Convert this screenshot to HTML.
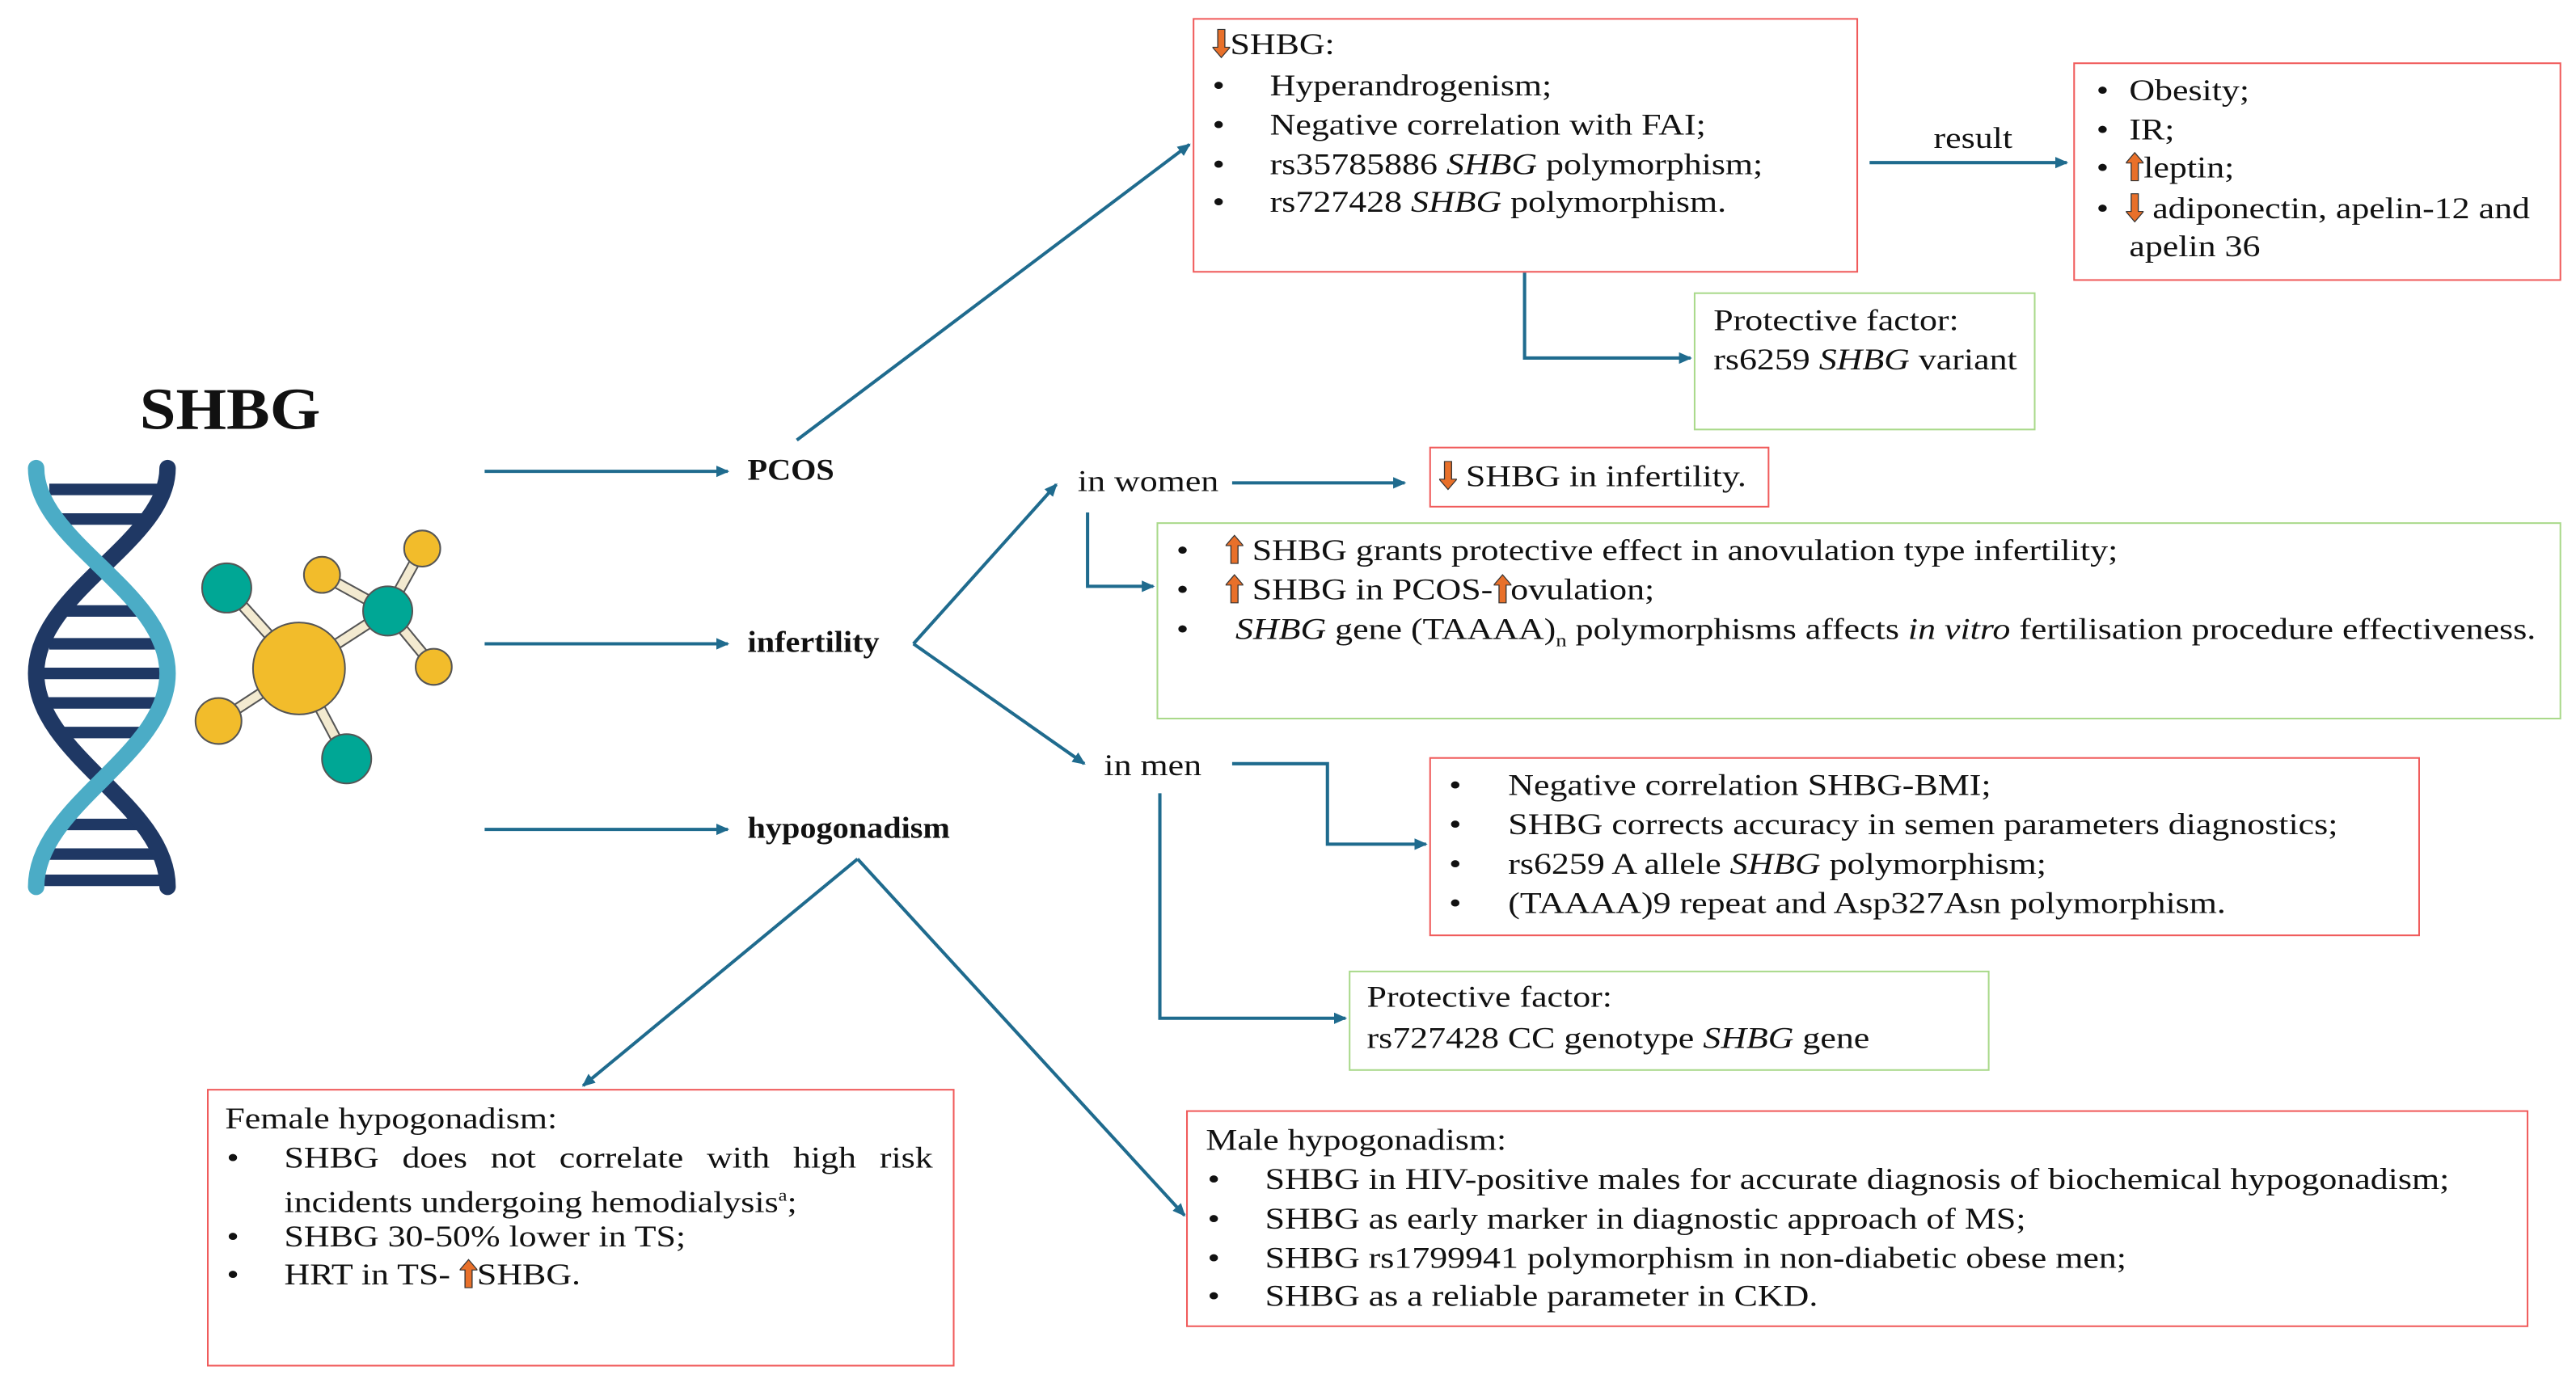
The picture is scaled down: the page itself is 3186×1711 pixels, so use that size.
<!DOCTYPE html>
<html><head><meta charset="utf-8"><style>
html,body{margin:0;padding:0;background:#fff;}
body{width:3186px;height:1710px;overflow:hidden;position:relative;}
#w{position:absolute;left:0;top:0;width:1568px;height:842px;transform:scale(2.0319);transform-origin:0 0;font-family:"Liberation Serif",serif;font-size:18px;color:#111;}
.b{position:absolute;box-sizing:border-box;}
.r{border:1.5px solid #f05a5a;}
.g{border:1.5px solid #a9d98a;}
.t{position:absolute;white-space:nowrap;line-height:20px;transform:scaleX(1.2);transform-origin:0 50%;}
.lbl{position:absolute;font-weight:bold;font-size:18px;white-space:nowrap;transform:scaleX(1.1);transform-origin:0 50%;}
svg.ov{position:absolute;left:0;top:0;}
.ua,.da{display:inline-block;width:9px;height:19px;vertical-align:-3px;}
</style></head><body><div id="w">
<svg class="ov" width="1568" height="842" viewBox="0 0 1568 842">
<defs><marker id="ah" markerWidth="8" markerHeight="8" refX="7" refY="4" orient="auto" markerUnits="userSpaceOnUse"><path d="M0,0.5 L8,4 L0,7.5 z" fill="#1f6b8e"/></marker></defs>
<g stroke="#1f6b8e" stroke-width="2" fill="none" marker-end="url(#ah)">
<line x1="295" y1="287" x2="443" y2="287"/>
<line x1="295" y1="392" x2="443" y2="392"/>
<line x1="295" y1="505" x2="443" y2="505"/>
<line x1="485" y1="268" x2="724" y2="88"/>
<line x1="1138" y1="99" x2="1258" y2="99"/>
<polyline points="928,166 928,218 1029,218"/>
<line x1="556" y1="392" x2="643" y2="295"/>
<line x1="556" y1="392" x2="660" y2="465"/>
<line x1="750" y1="294" x2="855" y2="294"/>
<polyline points="662,312 662,357 702,357"/>
<polyline points="750,465 808,465 808,514 868,514"/>
<polyline points="706,483 706,620 819,620"/>
<line x1="522" y1="523" x2="355" y2="661"/>
<line x1="522" y1="523" x2="721" y2="740"/>
</g>
<g stroke="#1f3864" stroke-width="7">
<line x1="30" y1="298" x2="98" y2="298"/><line x1="35" y1="316" x2="92" y2="316"/>
<line x1="40" y1="372" x2="86" y2="372"/><line x1="30" y1="392" x2="96" y2="392"/>
<line x1="26" y1="410" x2="100" y2="410"/><line x1="28" y1="428" x2="98" y2="428"/>
<line x1="35" y1="446" x2="92" y2="446"/><line x1="40" y1="502" x2="86" y2="502"/>
<line x1="30" y1="520" x2="96" y2="520"/><line x1="26" y1="536" x2="100" y2="536"/>
</g>
<path d="M102,285 C102,330 22,360 22,410 C22,460 102,490 102,540" stroke="#1f3864" stroke-width="10" fill="none" stroke-linecap="round"/>
<path d="M22,285 C22,330 102,360 102,410 C102,460 22,490 22,540" stroke="#4bacc6" stroke-width="10" fill="none" stroke-linecap="round"/>
<g stroke="#555" stroke-width="7" stroke-linecap="round">
<line x1="182" y1="407" x2="138" y2="358"/><line x1="182" y1="407" x2="236" y2="372"/>
<line x1="182" y1="407" x2="211" y2="462"/><line x1="182" y1="407" x2="133" y2="439"/>
<line x1="236" y1="372" x2="196" y2="350"/><line x1="236" y1="372" x2="257" y2="334"/>
<line x1="236" y1="372" x2="264" y2="406"/>
</g>
<g stroke="#f3ead0" stroke-width="5" stroke-linecap="round">
<line x1="182" y1="407" x2="138" y2="358"/><line x1="182" y1="407" x2="236" y2="372"/>
<line x1="182" y1="407" x2="211" y2="462"/><line x1="182" y1="407" x2="133" y2="439"/>
<line x1="236" y1="372" x2="196" y2="350"/><line x1="236" y1="372" x2="257" y2="334"/>
<line x1="236" y1="372" x2="264" y2="406"/>
</g>
<g stroke="#555" stroke-width="1">
<circle cx="182" cy="407" r="28" fill="#f2bc2b"/>
<circle cx="138" cy="358" r="15" fill="#00a795"/>
<circle cx="236" cy="372" r="15" fill="#00a795"/>
<circle cx="211" cy="462" r="15" fill="#00a795"/>
<circle cx="196" cy="350" r="11" fill="#f2bc2b"/>
<circle cx="257" cy="334" r="11" fill="#f2bc2b"/>
<circle cx="264" cy="406" r="11" fill="#f2bc2b"/>
<circle cx="133" cy="439" r="14" fill="#f2bc2b"/>
</g>
</svg>
<div class="lbl" style="left:85px;top:228px;font-size:36px;">SHBG</div>
<div class="lbl" style="left:455px;top:276px;">PCOS</div>
<div class="lbl" style="left:455px;top:381px;">infertility</div>
<div class="lbl" style="left:455px;top:494px;">hypogonadism</div>

<div class="b r" style="left:726px;top:11px;width:405px;height:155px;"></div>
<div class="t" style="left:738px;top:17px;"><svg class="da" viewBox="0 0 10 19"><path d="M3,0h4v12h3l-5,7l-5,-7h3z" fill="#e8702a" stroke="#333" stroke-width=".6"/></svg>SHBG:</div>
<div class="t" style="left:738px;top:42px;">•</div><div class="t" style="left:773px;top:42px;">Hyperandrogenism;</div>
<div class="t" style="left:738px;top:66px;">•</div><div class="t" style="left:773px;top:66px;">Negative correlation with FAI;</div>
<div class="t" style="left:738px;top:90px;">•</div><div class="t" style="left:773px;top:90px;">rs35785886 <i>SHBG</i> polymorphism;</div>
<div class="t" style="left:738px;top:113px;">•</div><div class="t" style="left:773px;top:113px;">rs727428 <i>SHBG</i> polymorphism.</div>

<div class="t" style="left:1177px;top:74px;">result</div>

<div class="b r" style="left:1262px;top:38px;width:297px;height:133px;"></div>
<div class="t" style="left:1276px;top:45px;">•</div><div class="t" style="left:1296px;top:45px;">Obesity;</div>
<div class="t" style="left:1276px;top:69px;">•</div><div class="t" style="left:1296px;top:69px;">IR;</div>
<div class="t" style="left:1276px;top:92px;">•</div><div class="t" style="left:1294px;top:92px;"><svg class="ua" viewBox="0 0 10 19"><path d="M3,19h4v-12h3l-5,-7l-5,7h3z" fill="#e8702a" stroke="#333" stroke-width=".6"/></svg>leptin;</div>
<div class="t" style="left:1276px;top:117px;">•</div><div class="t" style="left:1294px;top:117px;"><svg class="da" viewBox="0 0 10 19"><path d="M3,0h4v12h3l-5,7l-5,-7h3z" fill="#e8702a" stroke="#333" stroke-width=".6"/></svg> adiponectin, apelin-12 and</div>
<div class="t" style="left:1296px;top:140px;">apelin 36</div>

<div class="b g" style="left:1031px;top:178px;width:208px;height:84px;"></div>
<div class="t" style="left:1043px;top:185px;">Protective factor:</div>
<div class="t" style="left:1043px;top:209px;">rs6259 <i>SHBG</i> variant</div>

<div class="t" style="left:656px;top:283px;">in women</div>
<div class="b r" style="left:870px;top:272px;width:207px;height:37px;"></div>
<div class="t" style="left:876px;top:280px;"><svg class="da" viewBox="0 0 10 19"><path d="M3,0h4v12h3l-5,7l-5,-7h3z" fill="#e8702a" stroke="#333" stroke-width=".6"/></svg> SHBG in infertility.</div>

<div class="b g" style="left:704px;top:318px;width:855px;height:120px;"></div>
<div class="t" style="left:716px;top:325px;">•</div><div class="t" style="left:746px;top:325px;"><svg class="ua" viewBox="0 0 10 19"><path d="M3,19h4v-12h3l-5,-7l-5,7h3z" fill="#e8702a" stroke="#333" stroke-width=".6"/></svg> SHBG grants protective effect in anovulation type infertility;</div>
<div class="t" style="left:716px;top:349px;">•</div><div class="t" style="left:746px;top:349px;"><svg class="ua" viewBox="0 0 10 19"><path d="M3,19h4v-12h3l-5,-7l-5,7h3z" fill="#e8702a" stroke="#333" stroke-width=".6"/></svg> SHBG in PCOS-<svg class="ua" viewBox="0 0 10 19"><path d="M3,19h4v-12h3l-5,-7l-5,7h3z" fill="#e8702a" stroke="#333" stroke-width=".6"/></svg>ovulation;</div>
<div class="t" style="left:716px;top:373px;">•</div><div class="t" style="left:752px;top:373px;"><i>SHBG</i> gene (TAAAA)<sub style="font-size:11px;">n</sub> polymorphisms affects <i>in vitro</i> fertilisation procedure effectiveness.</div>

<div class="t" style="left:672px;top:456px;">in men</div>
<div class="b r" style="left:870px;top:461px;width:603px;height:109px;"></div>
<div class="t" style="left:882px;top:468px;">•</div><div class="t" style="left:918px;top:468px;">Negative correlation SHBG-BMI;</div>
<div class="t" style="left:882px;top:492px;">•</div><div class="t" style="left:918px;top:492px;">SHBG corrects accuracy in semen parameters diagnostics;</div>
<div class="t" style="left:882px;top:516px;">•</div><div class="t" style="left:918px;top:516px;">rs6259 A allele <i>SHBG</i> polymorphism;</div>
<div class="t" style="left:882px;top:540px;">•</div><div class="t" style="left:918px;top:540px;">(TAAAA)9 repeat and Asp327Asn polymorphism.</div>

<div class="b g" style="left:821px;top:591px;width:390px;height:61px;"></div>
<div class="t" style="left:832px;top:597px;">Protective factor:</div>
<div class="t" style="left:832px;top:622px;">rs727428 CC genotype <i>SHBG</i> gene</div>

<div class="b r" style="left:126px;top:663px;width:455px;height:169px;"></div>
<div class="t" style="left:137px;top:671px;">Female hypogonadism:</div>
<div class="t" style="left:138px;top:695px;">•</div><div class="t" style="left:173px;top:695px;width:329px;white-space:normal;text-align:justify;text-align-last:justify;height:20px;">SHBG does not correlate with high risk</div>
<div class="t" style="left:173px;top:719px;">incidents undergoing hemodialysis<sup style="font-size:10px;">a</sup>;</div>
<div class="t" style="left:138px;top:743px;">•</div><div class="t" style="left:173px;top:743px;">SHBG 30-50% lower in TS;</div>
<div class="t" style="left:138px;top:766px;">•</div><div class="t" style="left:173px;top:766px;">HRT in TS- <svg class="ua" viewBox="0 0 10 19"><path d="M3,19h4v-12h3l-5,-7l-5,7h3z" fill="#e8702a" stroke="#333" stroke-width=".6"/></svg>SHBG.</div>

<div class="b r" style="left:722px;top:676px;width:817px;height:132px;"></div>
<div class="t" style="left:734px;top:684px;">Male hypogonadism:</div>
<div class="t" style="left:735px;top:708px;">•</div><div class="t" style="left:770px;top:708px;">SHBG in HIV-positive males for accurate diagnosis of biochemical hypogonadism;</div>
<div class="t" style="left:735px;top:732px;">•</div><div class="t" style="left:770px;top:732px;">SHBG as early marker in diagnostic approach of MS;</div>
<div class="t" style="left:735px;top:756px;">•</div><div class="t" style="left:770px;top:756px;">SHBG rs1799941 polymorphism in non-diabetic obese men;</div>
<div class="t" style="left:735px;top:779px;">•</div><div class="t" style="left:770px;top:779px;">SHBG as a reliable parameter in CKD.</div>
</div></body></html>
